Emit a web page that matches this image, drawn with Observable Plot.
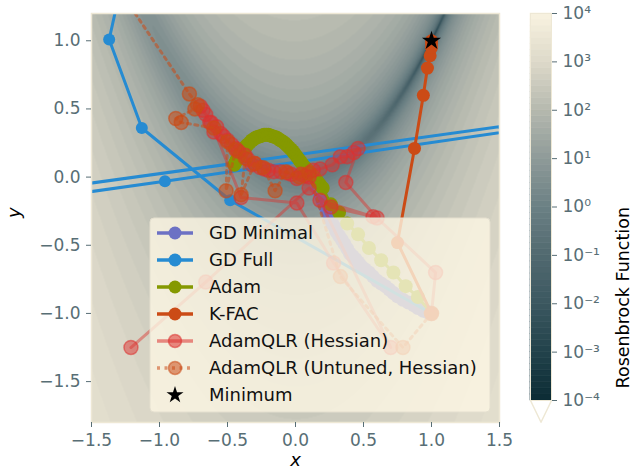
<!DOCTYPE html>
<html><head><meta charset="utf-8">
<script src="https://cdn.jsdelivr.net/npm/d3@7"></script>
<script src="https://cdn.jsdelivr.net/npm/@observablehq/plot@0.6"></script>
<style>
body{margin:0;background:#fff;font-family:"DejaVu Sans",sans-serif;}
#wrap{position:relative;width:635px;height:474px;overflow:hidden;}
#main{position:absolute;left:0;top:0;}
#cbar{position:absolute;left:500px;top:0;}
#legend{position:absolute;left:0;top:0;pointer-events:none;}
</style></head><body>
<div id="wrap"><div id="main"></div><div id="cbar"></div><svg id="legend" width="635" height="474"></svg></div>
<script>
// ---------- data ----------
const xTicks = [-1.5, -1, -0.5, 0, 0.5, 1, 1.5];
const yTicks = [-1.5, -1, -0.5, 0, 0.5, 1];
const cbarExponents = [-4, -3, -2, -1, 0, 1, 2, 3, 4];
const cbarExtend = [-4, -4.45, -4];
const cmapStops = ["#0d2d36", "#23434c", "#3c5860", "#526a70", "#6b8084", "#8e9a98", "#b4b8ae", "#dcd8c8", "#f7f1df"];

const gdMinX = [1.0, 0.97, 0.94, 0.90, 0.87, 0.83, 0.79, 0.75, 0.72, 0.69, 0.66, 0.63, 0.60, 0.57, 0.54, 0.51, 0.48, 0.46, 0.44, 0.42, 0.40, 0.38, 0.36, 0.34, 0.32, 0.30, 0.29, 0.27, 0.26, 0.245, 0.23, 0.215, 0.20, 0.19, 0.18, 0.17, 0.16, 0.155, 0.15];
const gdMinY = [-1.0, -0.99, -0.98, -0.96, -0.94, -0.92, -0.90, -0.875, -0.85, -0.825, -0.80, -0.78, -0.76, -0.73, -0.70, -0.675, -0.65, -0.625, -0.60, -0.58, -0.56, -0.525, -0.49, -0.46, -0.43, -0.40, -0.37, -0.34, -0.31, -0.275, -0.24, -0.21, -0.18, -0.15, -0.12, -0.095, -0.07, -0.045, -0.02];

const gdFullX = [1.0, -0.48, -1.13, -1.37, -1.15, -3.0, -0.96, 7.9, -20];
const gdFullY = [-1.0, -0.17, 0.36, 1.01, 2.0, -0.317, -0.03, 1.25, -2.59];

const adamX = [1.0, 0.90, 0.81, 0.72, 0.63, 0.54, 0.46, 0.38, 0.32, 0.26, 0.20, 0.18, 0.16, 0.145, 0.13, 0.115, 0.10, 0.085, 0.07, 0.055, 0.04, 0.025, 0.01, -0.005, -0.02, -0.035, -0.05, -0.065, -0.08, -0.095, -0.11, -0.125, -0.14, -0.155, -0.17, -0.185, -0.20, -0.215, -0.23, -0.245, -0.26, -0.275, -0.29, -0.305, -0.32, -0.335, -0.35, -0.36, -0.37, -0.38, -0.39, -0.40, -0.41, -0.42, -0.43, -0.44, -0.45];
const adamY = [-1.0, -0.88, -0.80, -0.70, -0.61, -0.52, -0.42, -0.34, -0.26, -0.20, -0.08, -0.055, -0.03, -0.01, 0.01, 0.025, 0.04, 0.055, 0.07, 0.09, 0.11, 0.13, 0.15, 0.17, 0.19, 0.205, 0.22, 0.235, 0.25, 0.26, 0.27, 0.28, 0.29, 0.295, 0.30, 0.305, 0.31, 0.31, 0.31, 0.305, 0.30, 0.295, 0.29, 0.28, 0.27, 0.255, 0.24, 0.23, 0.22, 0.205, 0.19, 0.175, 0.16, 0.145, 0.13, 0.11, 0.09];

const kfacX = [1.0, 0.75, 0.875, 0.94, 0.97, 0.99, 1.0, 1.0, 1.0];
const kfacY = [-1.0, -0.48, 0.21, 0.60, 0.80, 0.89, 0.95, 0.98, 1.0];

const qlrX = [1.0, 1.03, 0.60, 0.37, 0.46, 0.43, 0.38, 0.33, 0.27, 0.18, 0.13, 0.10, 0.07, 0.04, 0.01, -0.03, -0.06, -0.11, -0.16, -0.20, -0.23, -0.26, -0.30, -0.32, -0.35, -0.37, -0.42, -0.44, -0.47, -0.50, -0.53, -0.55, -0.58, -0.60, -0.63, -0.66, -0.68, -0.70, -0.62, -0.40, 0.01, 0.28, 0.70, 0.18, 0.57, 0.26, 0.10, -0.66, -1.21];
const qlrY = [-1.0, -0.70, -0.30, -0.04, 0.21, 0.18, 0.15, 0.15, 0.09, 0.06, 0.05, 0.00, 0.01, 0.02, -0.01, 0.02, 0.03, 0.04, 0.04, 0.05, 0.06, 0.07, 0.10, 0.09, 0.13, 0.16, 0.19, 0.21, 0.24, 0.27, 0.30, 0.32, 0.37, 0.33, 0.40, 0.46, 0.49, 0.52, 0.40, -0.15, -0.19, -0.63, -1.25, -0.17, -0.29, -0.22, -0.08, -0.77, -1.25];

const untunedX = [1.0, 0.79, 0.33, 0.10, 0.03, -0.07, -0.15, -0.24, -0.30, -0.40, -0.37, -0.44, -0.51, -0.50, -0.60, -0.84, -0.88, -0.74, -0.72, -0.78, -1.45];
const untunedY = [-1.0, -1.25, -0.73, 0.03, 0.0, 0.04, -0.10, 0.07, 0.10, -0.13, 0.14, 0.20, -0.10, 0.26, 0.36, 0.40, 0.43, 0.50, 0.53, 0.61, 1.60];

const minimumX = [1.0];
const minimumY = [1.0];

const legendNames = ["GD Minimal", "GD Full", "Adam", "K-FAC", "AdamQLR (Hessian)", "AdamQLR (Untuned, Hessian)", "Minimum"];
const legendColors = ["#6c71c4", "#268bd2", "#859900", "#cb4b16", "#dc322f", "#cb4b16", "#000000"];

// ---------- helpers ----------
const zip = (xs, ys) => xs.map((x, i) => ({x, y: ys[i]}));
const fmt = d => d.toFixed(1).replace("-", "\u2212");
const sup = {"-": "\u207B", "0": "\u2070", "1": "\u00B9", "2": "\u00B2", "3": "\u00B3", "4": "\u2074"};
const supFmt = d => "10" + String(Math.round(Math.log10(d))).split("").map(c => sup[c]).join("");
const interp = d3.piecewise(d3.interpolateRgb, cmapStops);
const levels = 64;
const qInterp = t => interp(Math.max(0, Math.min(1, Math.floor(t * levels) / (levels - 1))));
const rosen = (x, y) => Math.max(1e-4, (1 - x) ** 2 + 100 * (y - x * x) ** 2);
const colorOpts = {type: "log", domain: [1e-4, 1e4], interpolate: qInterp, clamp: true};
const tickColor = "#586e75";

function traj(xs, ys, color, o = {}) {
  const d = zip(xs, ys);
  return [
    Plot.line(d, {x: "x", y: "y", stroke: color, strokeWidth: 3, strokeOpacity: o.lineOpacity ?? o.opacity ?? 1, strokeDasharray: o.dash, clip: true}),
    Plot.dot(d, {x: "x", y: "y", r: o.r ?? 6, fill: color, fillOpacity: o.opacity ?? 1,
      stroke: color, strokeOpacity: o.ring ?? 0, strokeWidth: 1.5, clip: true})
  ];
}

// ---------- main plot ----------
const main = Plot.plot({
  width: 510, height: 474,
  marginLeft: 91, marginRight: 11, marginTop: 13, marginBottom: 52,
  x: {domain: [-1.5, 1.5], ticks: xTicks, tickFormat: fmt, label: null, tickSize: 5, tickPadding: 6},
  y: {domain: [-1.8, 1.2], ticks: yTicks, tickFormat: fmt, label: null, tickSize: 5, tickPadding: 6},
  color: colorOpts,
  style: {fontFamily: "DejaVu Sans", fontSize: "17px", color: tickColor, background: "transparent", overflow: "visible"},
  marks: [
    Plot.raster({x1: -1.5, x2: 1.5, y1: -1.8, y2: 1.2, fill: rosen, pixelSize: 1, imageRendering: "auto"}),
    ...traj(gdMinX, gdMinY, legendColors[0], {r: 7}),
    ...traj(gdFullX, gdFullY, legendColors[1], {r: 6}),
    ...traj(adamX, adamY, legendColors[2], {r: 7}),
    ...traj(kfacX, kfacY, legendColors[3], {r: 6.5}),
    ...traj(qlrX, qlrY, legendColors[4], {r: 7, opacity: 0.5, lineOpacity: 0.45, ring: 0.55}),
    ...traj(untunedX, untunedY, legendColors[5], {r: 7, opacity: 0.55, lineOpacity: 0.55, ring: 0.6, dash: "3,4.5"}),
    Plot.dot(zip(minimumX, minimumY), {x: "x", y: "y", symbol: "star", r: 6, fill: "#000", clip: true}),
    Plot.frame({stroke: "#eee8d5", strokeWidth: 1.5}),
    Plot.axisX({ticks: xTicks, tickFormat: fmt, tickSize: 5, tickPadding: 6, label: null, stroke: tickColor, fill: tickColor}),
    Plot.axisY({ticks: yTicks, tickFormat: fmt, tickSize: 5, tickPadding: 6, label: null, stroke: tickColor, fill: tickColor}),
    Plot.text(["x"], {frameAnchor: "bottom", dy: 43, fontSize: 18, fontStyle: "italic", fill: "#000"}),
    Plot.text(["y"], {frameAnchor: "left", dx: -77, rotate: -90, fontSize: 18, fontStyle: "italic", fill: "#000"})
  ]
});
document.getElementById("main").appendChild(main);

// ---------- colorbar ----------
const bandExp = d3.range(levels).map(i => -4 + i * 8 / levels);
const bands = bandExp.map(e => ({y1: 10 ** e, y2: 10 ** (e + 8 / levels), v: 10 ** (e + 4 / levels)}));
const cbar = Plot.plot({
  width: 135, height: 474,
  marginLeft: 30, marginRight: 84, marginTop: 13, marginBottom: 74,
  x: {domain: [0, 1], axis: null},
  y: {type: "log", domain: [1e-4, 1e4], axis: null},
  color: colorOpts,
  style: {fontFamily: "DejaVu Sans", fontSize: "17px", color: tickColor, background: "transparent", overflow: "visible"},
  marks: [
    Plot.rect(bands, {x1: 0, x2: 1, y1: "y1", y2: "y2", fill: "v", stroke: "v", strokeWidth: 0.6}),
    Plot.line(cbarExtend.map((e, i) => ({x: i / 2, y: 10 ** e})), {x: "x", y: "y", stroke: "#eee8d5", strokeWidth: 1.5, fill: "#fff"}),
    Plot.frame({stroke: "#eee8d5", strokeWidth: 1}),
    Plot.axisY({anchor: "right", ticks: cbarExponents.map(e => 10 ** e), tickFormat: supFmt, tickSize: 5, tickPadding: 6, label: null, stroke: tickColor, fill: tickColor}),
    Plot.text(["Rosenbrock Function"], {frameAnchor: "right", dx: 72, rotate: -90, fontSize: 17.5, fill: "#000"})
  ]
});
document.getElementById("cbar").appendChild(cbar);

// ---------- legend ----------
const lg = d3.select("#legend");
const lx = 150, ly = 218, lw = 340, lh = 194, rowH = 27;
lg.append("rect").attr("x", lx).attr("y", ly).attr("width", lw).attr("height", lh).attr("rx", 4)
  .attr("fill", "#fdf6e3").attr("fill-opacity", 0.8).attr("stroke", "#e4dfcf").attr("stroke-width", 1);
legendNames.forEach((name, i) => {
  const cy = ly + 15 + i * rowH;
  const col = legendColors[i];
  const g = lg.append("g");
  if (i < 6) {
    const op = i >= 4 ? 0.55 : 1;
    g.append("line").attr("x1", lx + 7).attr("x2", lx + 43).attr("y1", cy).attr("y2", cy)
      .attr("stroke", col).attr("stroke-width", 3.5).attr("stroke-opacity", op)
      .attr("stroke-dasharray", i === 5 ? "3,4.5" : null);
    g.append("circle").attr("cx", lx + 25).attr("cy", cy).attr("r", 6.5)
      .attr("fill", col).attr("fill-opacity", op).attr("stroke", col).attr("stroke-opacity", i >= 4 ? 0.55 : 0).attr("stroke-width", 1.5);
  } else {
    g.append("path").attr("d", d3.symbol(d3.symbolStar, 90)()).attr("transform", `translate(${lx + 25},${cy})`).attr("fill", "#000");
  }
  g.append("text").attr("x", lx + 59).attr("y", cy).attr("dy", "0.36em")
    .attr("font-family", "DejaVu Sans").attr("font-size", 18).attr("fill", "#111").text(name);
});
</script>
</body></html>
